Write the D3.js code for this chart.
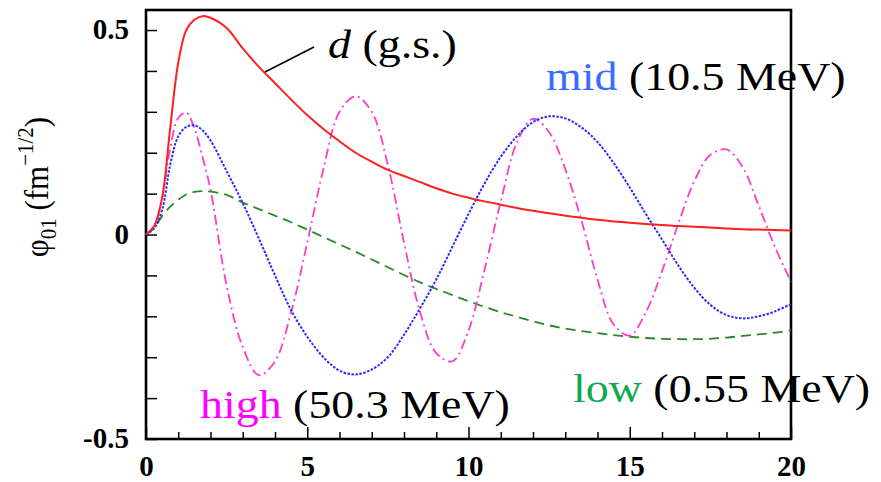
<!DOCTYPE html>
<html>
<head>
<meta charset="utf-8">
<script src="https://cdn.jsdelivr.net/npm/d3@7"></script>
<style>
  html, body { margin: 0; padding: 0; background: #fff; }
  svg { display: block; }
</style>
</head>
<body>
<div id="chart"></div>
<script>
// radial coordinate r (fm)
const rVals = [0, 0.25, 0.5, 0.75, 1, 1.25, 1.5, 1.75, 2, 2.5, 3, 3.5, 4, 4.5, 5, 5.5, 6, 6.5, 7, 7.5,
  8, 8.5, 9, 9.5, 10, 10.5, 11, 11.5, 12, 12.5, 13, 13.5, 14, 14.5, 15, 15.5, 16, 16.5, 17, 17.5,
  18, 18.5, 19, 19.5, 20];

// d (g.s.)
const gsVals = [0, 0.02, 0.09, 0.26, 0.42, 0.50, 0.525, 0.534, 0.530, 0.505, 0.455, 0.41, 0.37, 0.33, 0.292,
  0.258, 0.228, 0.20, 0.178, 0.158, 0.143, 0.128, 0.113, 0.100, 0.090, 0.081, 0.073, 0.065, 0.058, 0.052,
  0.046, 0.041, 0.036, 0.032, 0.029, 0.026, 0.023, 0.021, 0.019, 0.017, 0.015, 0.013, 0.012, 0.011, 0.010];

// mid (10.5 MeV)
const midVals = [0, 0.015, 0.06, 0.17, 0.24, 0.263, 0.267, 0.255, 0.23, 0.155, 0.077, -0.01, -0.10, -0.185, -0.25,
  -0.30, -0.333, -0.342, -0.33, -0.30, -0.245, -0.18, -0.11, -0.03, 0.05, 0.125, 0.19, 0.24, 0.275, 0.289,
  0.284, 0.262, 0.226, 0.175, 0.115, 0.05, -0.012, -0.075, -0.13, -0.172, -0.197, -0.205, -0.200, -0.188, -0.170];

// high (50.3 MeV)
const highVals = [0, 0.02, 0.09, 0.21, 0.285, 0.298, 0.26, 0.19, 0.11, -0.125, -0.275, -0.344, -0.31, -0.19, -0.02,
  0.16, 0.30, 0.338, 0.30, 0.17, -0.02, -0.19, -0.29, -0.31, -0.235, -0.085, 0.08, 0.225, 0.283, 0.25,
  0.16, 0.035, -0.11, -0.22, -0.247, -0.19, -0.09, 0.025, 0.13, 0.195, 0.208, 0.165, 0.07, -0.03, -0.115];

// low (0.55 MeV)
const lowVals = [0, 0.015, 0.045, 0.068, 0.085, 0.098, 0.104, 0.106, 0.105, 0.097, 0.078, 0.062, 0.046, 0.030, 0.012,
  -0.006, -0.024, -0.042, -0.061, -0.080, -0.099, -0.117, -0.133, -0.148, -0.163, -0.177, -0.19, -0.201, -0.212, -0.222,
  -0.23, -0.236, -0.241, -0.246, -0.25, -0.253, -0.255, -0.256, -0.256, -0.255, -0.252, -0.248, -0.244, -0.24, -0.234];

const xTicks = [0, 1, 2, 3, 4, 5, 6, 7, 8, 9, 10, 11, 12, 13, 14, 15, 16, 17, 18, 19, 20];
const xLabels = {0: "0", 5: "5", 10: "10", 15: "15", 20: "20"};
const yTicks = [-0.5, -0.4, -0.3, -0.2, -0.1, 0, 0.1, 0.2, 0.3, 0.4, 0.5];
const yLabels = {"-0.5": "-0.5", "0": "0", "0.5": "0.5"};

const width = 881;
const height = 482;
const plotL = 146, plotR = 791, plotT = 10, plotB = 439;
const stretch = 1.12; // the figure is a bit wider than tall

const svg = d3.select("#chart").append("svg")
    .attr("width", width)
    .attr("height", height);

const x = d3.scaleLinear().domain([0, 20]).range([plotL, plotR]);
const y = d3.scaleLinear().domain([-0.5, 0.549]).range([plotB, plotT]);

// axes with inward ticks
const xAxis = svg.append("g")
    .attr("transform", `translate(0,${plotB})`)
    .call(d3.axisBottom(x)
        .tickValues(xTicks)
        .tickSize(-7)
        .tickPadding(16)
        .tickFormat(d => xLabels[d] || ""));
xAxis.selectAll(".tick line")
    .attr("y2", d => d % 5 === 0 ? -12 : -7)
    .attr("stroke-width", 1.5);

const yAxis = svg.append("g")
    .attr("transform", `translate(${plotL},0)`)
    .call(d3.axisLeft(y)
        .tickValues(yTicks)
        .tickSize(-11)
        .tickPadding(17)
        .tickFormat(d => yLabels[String(Math.round(d * 10) / 10)] || ""));
yAxis.selectAll(".tick line").attr("stroke-width", 1.5);

svg.selectAll(".domain").remove();
svg.selectAll(".tick text")
    .attr("font-family", "'Liberation Serif', 'Times New Roman', serif")
    .attr("font-weight", "bold")
    .attr("font-size", 29)
    .attr("fill", "#000");
yAxis.selectAll(".tick text").attr("dy", "0.3em");

// frame
svg.append("rect")
    .attr("x", plotL).attr("y", plotT)
    .attr("width", plotR - plotL).attr("height", plotB - plotT)
    .attr("fill", "none")
    .attr("stroke", "#000")
    .attr("stroke-width", 2.6);

// curves
const series = [
  {vals: lowVals, color: "#2a8a2a", dash: "10,6", w: 1.8},
  {vals: highVals, color: "#ff3cc8", dash: "10,4,2,4", w: 1.8},
  {vals: midVals, color: "#2a2aff", dash: "2.5,1.5", w: 2},
  {vals: gsVals, color: "#ff2020", dash: null, w: 2}
];

const line = d3.line()
    .x(d => x(d[0]))
    .y(d => y(d[1]))
    .curve(d3.curveCatmullRom.alpha(0.5));

series.forEach(s => {
  svg.append("path")
      .datum(rVals.map((r, i) => [r, s.vals[i]]))
      .attr("d", line)
      .attr("fill", "none")
      .attr("stroke", s.color)
      .attr("stroke-width", s.w)
      .attr("stroke-dasharray", s.dash);
});

// annotations
const serif = "'Liberation Serif', 'Times New Roman', serif";

svg.append("line")
    .attr("x1", 265).attr("y1", 72)
    .attr("x2", 314).attr("y2", 47)
    .attr("stroke", "#000")
    .attr("stroke-width", 1.6);

function label(px, py, parts) {
  const t = svg.append("text")
      .attr("transform", `translate(${px},${py}) scale(${stretch},1)`)
      .attr("font-family", serif)
      .attr("font-size", 41);
  parts.forEach(p => {
    t.append("tspan")
        .attr("fill", p.color || "#000")
        .attr("font-style", p.italic ? "italic" : "normal")
        .text(p.text);
  });
}

label(328, 58, [{text: "d", italic: true}, {text: " (g.s.)"}]);
label(546, 90, [{text: "mid", color: "#3a6cff"}, {text: " (10.5 MeV)"}]);
label(200, 418, [{text: "high", color: "#ff00ff"}, {text: " (50.3 MeV)"}]);
label(573, 402, [{text: "low", color: "#10a850"}, {text: " (0.55 MeV)"}]);

// y axis title
const yt = svg.append("text")
    .attr("transform", `translate(48,187) rotate(-90) scale(1,${stretch})`)
    .attr("text-anchor", "middle")
    .attr("font-family", serif)
    .attr("font-size", 31);
yt.append("tspan").text("φ");
yt.append("tspan").attr("dy", 7).attr("font-size", 21).text("01");
yt.append("tspan").attr("dy", -7).text(" (fm");
yt.append("tspan").attr("dy", -13).attr("font-size", 21).text("−1/2");
yt.append("tspan").attr("dy", 13).text(")");
</script>
</body>
</html>
